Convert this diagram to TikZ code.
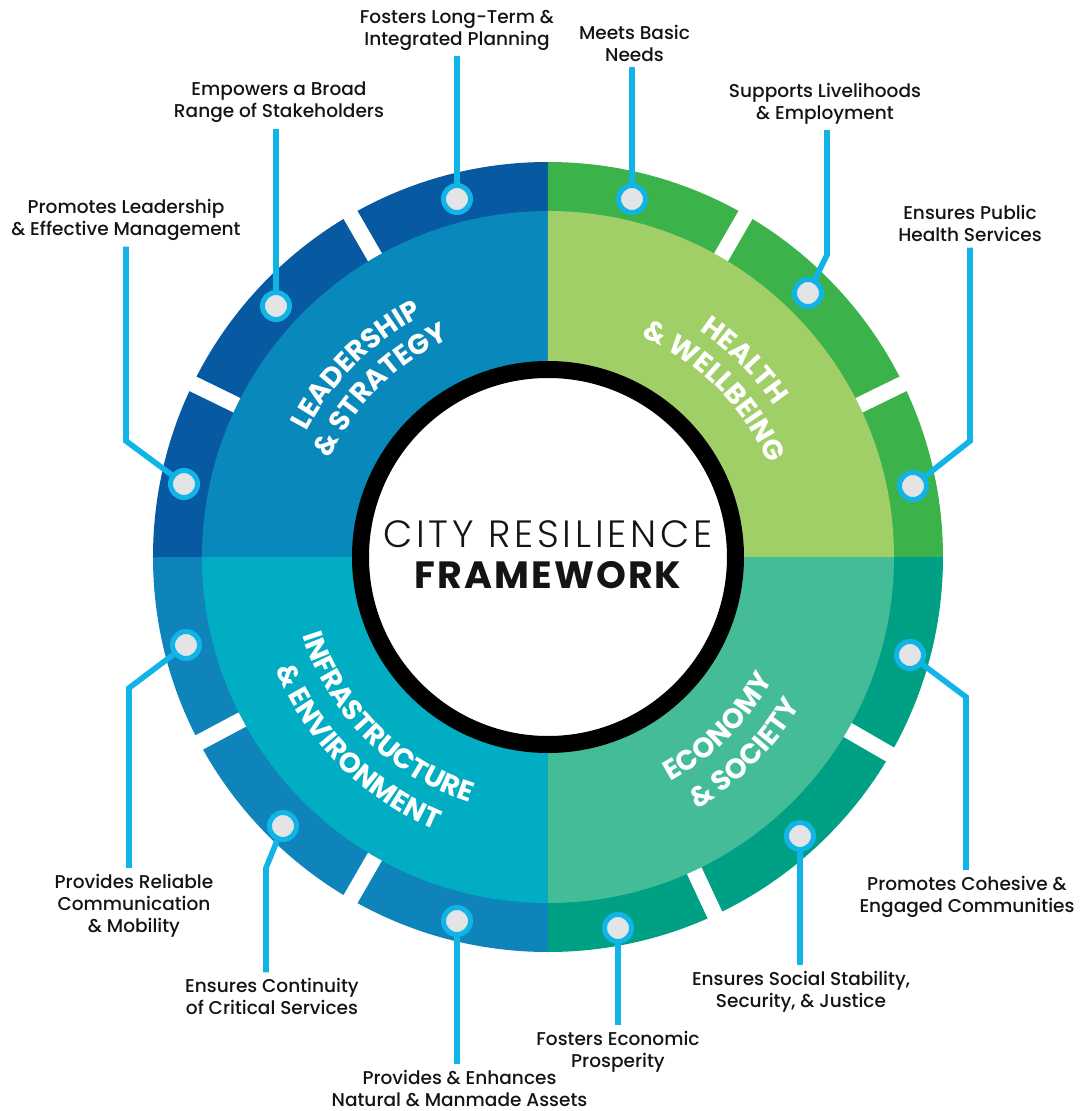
\documentclass[tikz,border=0pt]{standalone}
\usepackage{fontspec}
\setmainfont{Poppins}
\newfontfamily\medfont{Poppins Medium}
\newfontfamily\lightfont{Poppins Light}[LetterSpace=10]
\newfontfamily\heavyfont{Poppins}[LetterSpace=5.5]
\usetikzlibrary{decorations.text}
\definecolor{lsIn}{RGB}{8,136,187}
\definecolor{lsOut}{RGB}{7,89,161}
\definecolor{hwIn}{RGB}{160,207,104}
\definecolor{hwOut}{RGB}{59,178,74}
\definecolor{esIn}{RGB}{69,188,152}
\definecolor{esOut}{RGB}{0,160,132}
\definecolor{ieIn}{RGB}{0,173,194}
\definecolor{ieOut}{RGB}{15,132,186}
\definecolor{connc}{RGB}{16,180,231}
\definecolor{dotfill}{RGB}{227,228,230}
\definecolor{ink}{RGB}{20,20,20}
\newcommand\quadfont{\fontsize{21}{21}\selectfont\bfseries}
\begin{document}
\begin{tikzpicture}[x=0.75pt,y=0.75pt,
  dotnode/.style={circle, draw=connc, fill=dotfill, line width=3.75pt, minimum size=20.25pt, inner sep=0pt},
  connector/.style={draw=connc, line width=4.2pt},
  lbl/.style={font={\medfont\fontsize{13.9pt}{16.5pt}\selectfont}, text=ink, align=center, inner sep=0pt, outer ysep=4.5pt},
  gapline/.style={white, line width=12pt},
  curvetext/.style={decorate, decoration={text along path, text={#1}, text align=center, text color=white}}
]
\useasboundingbox (-548,-554) rectangle (532,557);
% outer ring sectors
\fill[lsOut] (0,0) -- (90:395) arc[start angle=90,end angle=180,radius=395] -- cycle;
\fill[hwOut] (0,0) -- (0:395) arc[start angle=0,end angle=90,radius=395] -- cycle;
\fill[esOut] (0,0) -- (-90:395) arc[start angle=-90,end angle=0,radius=395] -- cycle;
\fill[ieOut] (0,0) -- (180:395) arc[start angle=180,end angle=270,radius=395] -- cycle;
% gaps
\foreach \a in {120,154,60,26,-30,-65,208,240} \draw[gapline] (\a:330) -- (\a:410);
% inner sectors
\fill[lsIn] (0,0) -- (90:346) arc[start angle=90,end angle=180,radius=346] -- cycle;
\fill[hwIn] (0,0) -- (0:346) arc[start angle=0,end angle=90,radius=346] -- cycle;
\fill[esIn] (0,0) -- (-90:346) arc[start angle=-90,end angle=0,radius=346] -- cycle;
\fill[ieIn] (0,0) -- (180:346) arc[start angle=180,end angle=270,radius=346] -- cycle;
% centre
\draw[line width=12.75pt, fill=white] (0,0) circle[radius=187.5];
\node[anchor=base, font={\lightfont\fontsize{28.5pt}{28.5pt}\selectfont}, text=ink, inner sep=0pt] (t1) at (0,10) {CITY RESILIENCE};
\node[anchor=base, font={\heavyfont\bfseries\fontsize{28.5pt}{28.5pt}\selectfont}, text=ink, inner sep=0pt] (t2) at (0,-31) {FRAMEWORK};
% curved quadrant titles
\path[curvetext={|\quadfont|LEADERSHIP}] (185:272) arc[start angle=185,end angle=85,radius=272];
\path[curvetext={|\quadfont|{\&} STRATEGY}] (185:239) arc[start angle=185,end angle=85,radius=239];
\path[curvetext={|\quadfont|HEALTH}] (95:272) arc[start angle=95,end angle=-5,radius=272];
\path[curvetext={|\quadfont|{\&} WELLBEING}] (95:239) arc[start angle=95,end angle=-5,radius=239];
\path[curvetext={|\quadfont|ECONOMY}] (-95:256) arc[start angle=-95,end angle=5,radius=256];
\path[curvetext={|\quadfont|{\&} SOCIETY}] (-95:293) arc[start angle=-95,end angle=5,radius=293];
\path[curvetext={|\quadfont|INFRASTRUCTURE}] (170:258) arc[start angle=170,end angle=280,radius=258];
\path[curvetext={|\quadfont|{\&} ENVIRONMENT}] (170:295) arc[start angle=170,end angle=280,radius=295];
% dots
\node[dotnode] (d1) at (-364,73) {};
\node[dotnode] (d2) at (-272,251) {};
\node[dotnode] (d3) at (-91,358) {};
\node[dotnode] (d4) at (84,358) {};
\node[dotnode] (d5) at (260,264) {};
\node[dotnode] (d6) at (365,71) {};
\node[dotnode] (d7) at (362,-98) {};
\node[dotnode] (d8) at (252,-279) {};
\node[dotnode] (d9) at (70,-371) {};
\node[dotnode] (d10) at (-91,-364) {};
\node[dotnode] (d11) at (-265,-269) {};
\node[dotnode] (d12) at (-362,-88) {};
% labels
\node[lbl] (l1) at (-422,337) {Promotes Leadership\\\& Effective Management};
\node[lbl] (l2) at (-269,454.5) {Empowers a Broad\\Range of Stakeholders};
\node[lbl] (l3) at (-91,527) {Fosters Long-Term \&\\Integrated Planning};
\node[lbl] (l4) at (86.5,514) {Meets Basic\\Needs};
\node[lbl] (l5) at (277,453.5) {Supports Livelihoods\\\& Employment};
\node[lbl] (l6) at (422,333.5) {Ensures Public\\Health Services};
\node[lbl] (l7) at (419,-339.5) {Promotes Cohesive \&\\Engaged Communities};
\node[lbl] (l8) at (253,-434.5) {Ensures Social Stability,\\Security, \& Justice};
\node[lbl] (l9) at (70,-495) {Fosters Economic\\Prosperity};
\node[lbl] (l10) at (-88.5,-531) {Provides \& Enhances\\Natural \& Manmade Assets};
\node[lbl] (l11) at (-276,-439.5) {Ensures Continuity\\of Critical Services};
\node[lbl] (l12) at (-414,-348.5) {Provides Reliable\\Communication\\\& Mobility};
% bends
\coordinate (b1) at (-422,116);
\coordinate (b5) at (279,302);
\coordinate (b6) at (422,116);
\coordinate (b7) at (418,-140);
\coordinate (b11) at (-282,-311);
\coordinate (b12) at (-419,-131);
% connectors
\draw[connector] (d1) -- (b1) -- (b1 |- l1.south);
\draw[connector] (d2) -- (d2 |- l2.south);
\draw[connector] (d3) -- (d3 |- l3.south);
\draw[connector] (d4) -- (d4 |- l4.south);
\draw[connector] (d5) -- (b5) -- (b5 |- l5.south);
\draw[connector] (d6) -- (b6) -- (b6 |- l6.south);
\draw[connector] (d7) -- (b7) -- (b7 |- l7.north);
\draw[connector] (d8) -- (d8 |- l8.north);
\draw[connector] (d9) -- (d9 |- l9.north);
\draw[connector] (d10) -- (d10 |- l10.north);
\draw[connector] (d11) -- (b11) -- (b11 |- l11.north);
\draw[connector] (d12) -- (b12) -- (b12 |- l12.north);
\end{tikzpicture}
\end{document}
